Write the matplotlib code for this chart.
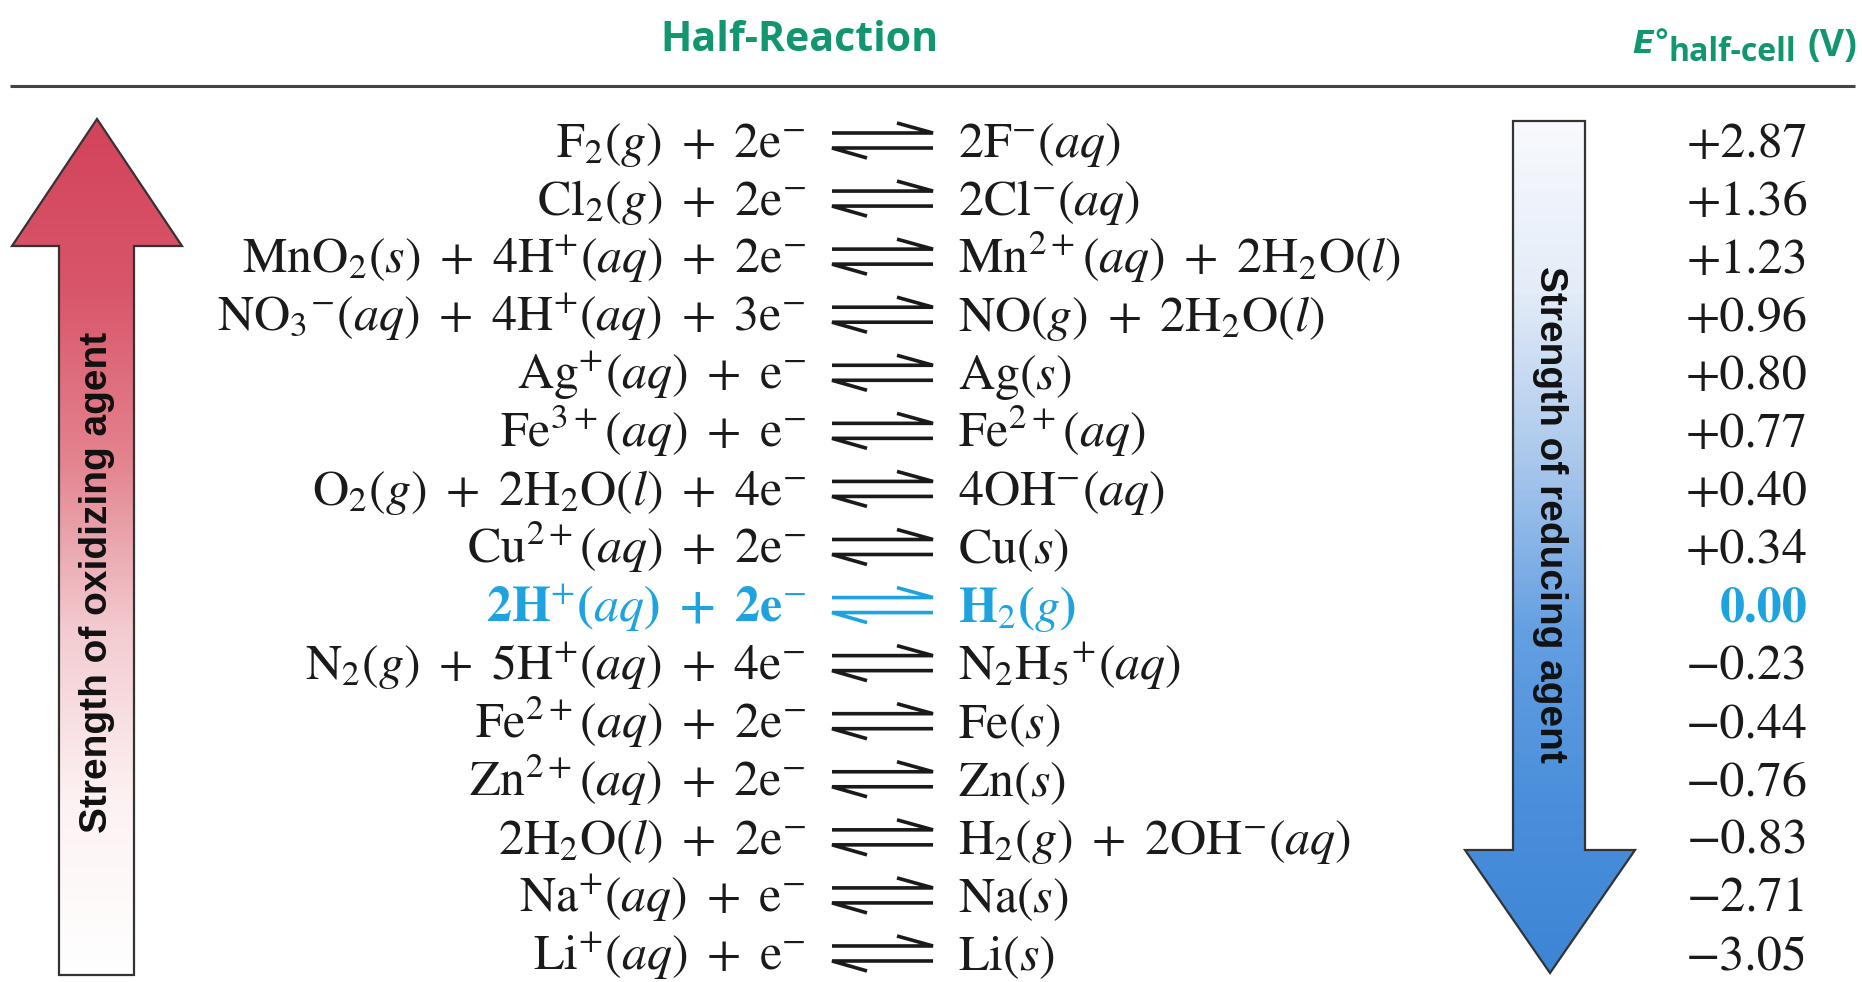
import numpy as np
import matplotlib.pyplot as plt
from matplotlib.colors import LinearSegmentedColormap
from matplotlib.patches import Polygon

plt.rcParams['font.family'] = 'STIXGeneral'
plt.rcParams['mathtext.fontset'] = 'stix'

# table content
reactants = [
    "F$_2$($g$) + 2e$^{-}$",
    "Cl$_2$($g$) + 2e$^{-}$",
    "MnO$_2$($s$) + 4H$^{+}$($aq$) + 2e$^{-}$",
    "NO$_3$${}^{-}$($aq$) + 4H$^{+}$($aq$) + 3e$^{-}$",
    "Ag$^{+}$($aq$) + e$^{-}$",
    "Fe$^{3+}$($aq$) + e$^{-}$",
    "O$_2$($g$) + 2H$_2$O($l$) + 4e$^{-}$",
    "Cu$^{2+}$($aq$) + 2e$^{-}$",
    "2H$^{+}$($aq$) + 2e$^{-}$",
    "N$_2$($g$) + 5H$^{+}$($aq$) + 4e$^{-}$",
    "Fe$^{2+}$($aq$) + 2e$^{-}$",
    "Zn$^{2+}$($aq$) + 2e$^{-}$",
    "2H$_2$O($l$) + 2e$^{-}$",
    "Na$^{+}$($aq$) + e$^{-}$",
    "Li$^{+}$($aq$) + e$^{-}$",
]
products = [
    "2F$^{-}$($aq$)",
    "2Cl$^{-}$($aq$)",
    "Mn$^{2+}$($aq$) + 2H$_2$O($l$)",
    "NO($g$) + 2H$_2$O($l$)",
    "Ag($s$)",
    "Fe$^{2+}$($aq$)",
    "4OH$^{-}$($aq$)",
    "Cu($s$)",
    "H$_2$($g$)",
    "N$_2$H$_5$${}^{+}$($aq$)",
    "Fe($s$)",
    "Zn($s$)",
    "H$_2$($g$) + 2OH$^{-}$($aq$)",
    "Na($s$)",
    "Li($s$)",
]
potentials = [2.87, 1.36, 1.23, 0.96, 0.80, 0.77, 0.40, 0.34, 0.00,
              -0.23, -0.44, -0.76, -0.83, -2.71, -3.05]
reference_row = 8  # hydrogen electrode

green = '#11966f'
cyan = '#1ea3df'
ink = '#1a1a1a'

fig = plt.figure(figsize=(18.62, 9.82), dpi=100)
ax = fig.add_axes([0, 0, 1, 1])


def fmt(v):
    if v > 0:
        return f'+{v:.2f}'
    if v < 0:
        return f'\u2212{abs(v):.2f}'
    return f'{v:.2f}'


def spaced(s):
    # book typesetting puts a bit more room around the plus signs
    return s.replace(' + ', r' $\,$+$\,$ ')


def gradient_arrow(verts, colors):
    poly = Polygon(verts, closed=True, facecolor='none', edgecolor='#333333',
                   lw=1.6, zorder=3)
    ax.add_patch(poly)
    cmap = LinearSegmentedColormap.from_list('grad', colors)
    xs = [v[0] for v in verts]
    ys = [v[1] for v in verts]
    grad = np.linspace(0, 1, 256).reshape(-1, 1)
    im = ax.imshow(grad, cmap=cmap, aspect='auto', zorder=2,
                   extent=(min(xs), max(xs), max(ys), min(ys)))
    im.set_clip_path(poly)


# headers
ax.text(799, 40, 'Half-Reaction', ha='center', va='center', fontsize=29.5,
        fontweight='bold', family='Open Sans', color=green)
e = ax.text(1632, 53, 'E°', ha='left', va='baseline', fontsize=23,
            fontweight='bold', fontstyle='oblique', family='DejaVu Sans', color=green)
ax.annotate('half-cell', xy=(1, 0), xycoords=e, xytext=(-1, -1), textcoords='offset points',
            ha='left', va='baseline', fontsize=23, fontweight='bold',
            family='Open Sans', color=green)
ax.text(1857, 56, '(V)', ha='right', va='baseline', fontsize=27,
        fontweight='bold', family='Open Sans', color=green)
ax.plot([10, 1855], [86, 86], color='#444444', lw=2.2, solid_capstyle='butt')

# strength arrows
gradient_arrow([(97, 119), (182, 246), (134, 246), (134, 975), (59, 975), (59, 246), (12, 246)],
               ['#d3435a', '#d9566a', '#e3848f', '#f3ccd1', '#fdf2f3', '#ffffff'])
gradient_arrow([(1513, 121), (1585, 121), (1585, 850), (1635, 850), (1550, 973),
                (1465, 850), (1513, 850)],
               ['#f8fafd', '#e3ecf8', '#a9c7ec', '#649fe2', '#4a8fdb', '#3d85d5'])
ax.text(97, 582, 'Strength of oxidizing agent', rotation=90, ha='center', va='center',
        fontsize=28, fontweight='bold', family='Liberation Sans', color='#111111', zorder=4)
ax.text(1550, 514, 'Strength of reducing agent', rotation=270, ha='center', va='center',
        fontsize=28, fontweight='bold', family='Liberation Sans', color='#111111', zorder=4)

# rows
for i, (lhs, rhs, v) in enumerate(zip(reactants, products, potentials)):
    yb = 157 + i * 58.07
    col = cyan if i == reference_row else ink
    wt = 'bold' if i == reference_row else 'normal'
    ax.text(806, yb, spaced(lhs), ha='right', va='baseline', fontsize=36, color=col, fontweight=wt)
    ax.text(958, yb, spaced(rhs), ha='left', va='baseline', fontsize=36, color=col, fontweight=wt)
    ax.text(1808, yb, fmt(v), ha='right', va='baseline', fontsize=36, color=col, fontweight=wt)
    # equilibrium harpoons
    ax.plot([832, 933, 897], [yb - 24, yb - 24, yb - 34], color=col, lw=2.6,
            solid_joinstyle='miter', solid_capstyle='butt')
    ax.plot([933, 832, 867], [yb - 9, yb - 9, yb + 1], color=col, lw=2.6,
            solid_joinstyle='miter', solid_capstyle='butt')

ax.set_xlim(0, 1862)
ax.set_ylim(982, 0)
ax.axis('off')

fig.savefig('out.png', dpi=100, facecolor='white')
